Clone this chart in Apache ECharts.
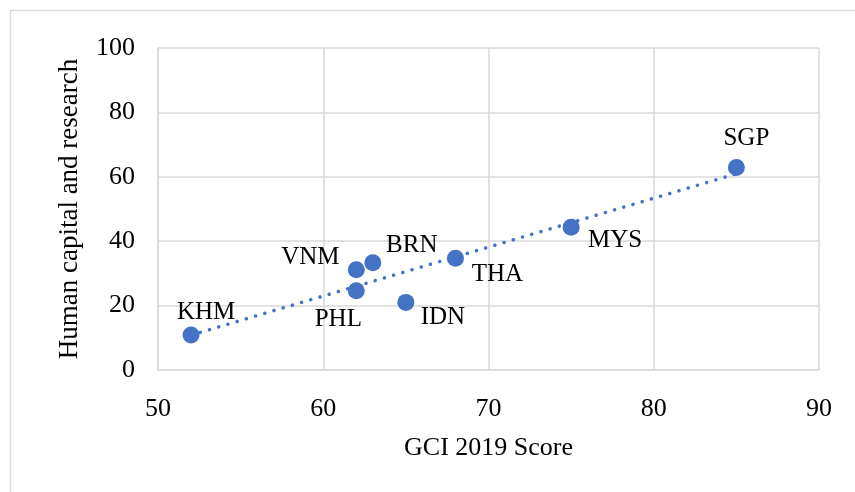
<!DOCTYPE html>
<html>
<head>
<meta charset="utf-8">
<script src="https://cdn.jsdelivr.net/npm/echarts@6/dist/echarts.min.js"></script>
<style>
  html, body { margin: 0; padding: 0; background: #fff; }
  #chart { width: 855px; height: 492px; }
</style>
</head>
<body>
<div id="chart"></div>
<script>
// 国家代码 / GCI 2019 得分 / Human capital and research
var countries = ['KHM', 'PHL', 'VNM', 'BRN', 'IDN', 'THA', 'MYS', 'SGP'];
var gciScore = [52, 62, 62, 63, 65, 68, 75, 85];
var humanCapital = [10.9, 24.6, 31.1, 33.3, 21.0, 34.7, 44.3, 62.9];
var xTicks = [50, 60, 70, 80, 90];
var yTicks = [0, 20, 40, 60, 80, 100];

// label placement (px from point centre), style only
var labelOffsets = [[15, -22], [-18, 29], [-46, -12], [39, -17], [37, 15], [42, 16], [44, 13], [10, -29]];

var blue = '#4472C4';
var gridGray = '#d9d9d9';
var font = 'Liberation Serif';

// linear trendline (least squares) from the points
function trendLine(xs, ys){
  var n = xs.length, sx = 0, sy = 0, sxy = 0, sxx = 0;
  for (var i = 0; i < n; i++) {
    sx += xs[i]; sy += ys[i]; sxy += xs[i] * ys[i]; sxx += xs[i] * xs[i];
  }
  var k = (n * sxy - sx * sy) / (n * sxx - sx * sx);
  var b = (sy - k * sx) / n;
  var x0 = Math.min.apply(null, xs), x1 = Math.max.apply(null, xs);
  return [[x0, k * x0 + b], [x1, k * x1 + b]];
}

var points = [];
for (var i = 0; i < countries.length; i++) {
  points.push({
    name: countries[i],
    value: [gciScore[i], humanCapital[i]],
    label: { offset: labelOffsets[i] }
  });
}

var option = {
  backgroundColor: '#fff',
  animation: false,
  textStyle: { fontFamily: font },
  graphic: [{
    type: 'rect',
    shape: { x: 10.5, y: 10.5, width: 900, height: 600 },
    style: { fill: 'none', stroke: gridGray, lineWidth: 1.5 },
    silent: true
  }],
  grid: { left: 158, right: 36, top: 48, bottom: 122 },
  xAxis: {
    type: 'value',
    min: xTicks[0],
    max: xTicks[xTicks.length - 1],
    interval: 10,
    name: 'GCI 2019 Score',
    nameLocation: 'middle',
    nameGap: 65,
    nameTextStyle: { fontFamily: font, fontSize: 26, color: '#000' },
    axisLine: { show: true, lineStyle: { color: gridGray, width: 1.5 } },
    axisTick: { show: false },
    axisLabel: { fontFamily: font, fontSize: 26, color: '#000', margin: 26 },
    splitLine: { show: true, lineStyle: { color: gridGray, width: 1.5 } }
  },
  yAxis: {
    type: 'value',
    min: yTicks[0],
    max: yTicks[yTicks.length - 1],
    interval: 20,
    name: 'Human capital and research',
    nameLocation: 'middle',
    nameGap: 75,
    nameTextStyle: { fontFamily: font, fontSize: 27, color: '#000' },
    axisLine: { show: true, lineStyle: { color: gridGray, width: 1.5 } },
    axisTick: { show: false },
    axisLabel: { fontFamily: font, fontSize: 26, color: '#000', margin: 23 },
    splitLine: { show: true, lineStyle: { color: gridGray, width: 1.5 } }
  },
  series: [{
    name: 'trend',
    type: 'line',
    data: trendLine(gciScore, humanCapital),
    symbol: 'none',
    silent: true,
    lineStyle: { color: blue, width: 3.5, type: [0.1, 9.5], cap: 'round' },
    z: 1
  }, {
    name: 'countries',
    type: 'scatter',
    data: points,
    symbolSize: 17,
    itemStyle: { color: blue, opacity: 1 },
    label: {
      show: true,
      position: 'inside',
      align: 'center',
      verticalAlign: 'middle',
      formatter: '{b}',
      fontFamily: font,
      fontSize: 25,
      color: '#000'
    },
    z: 2
  }]
};

var chart = echarts.init(document.getElementById('chart'));
chart.setOption(option);
</script>
</body>
</html>
